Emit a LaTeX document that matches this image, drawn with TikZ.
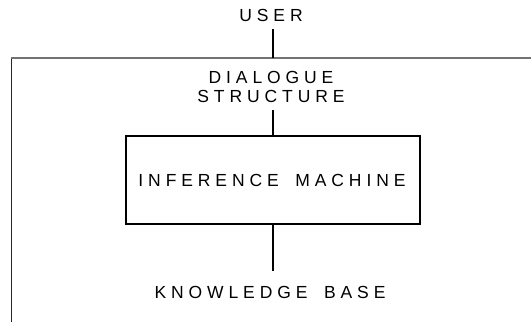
\documentclass[tikz,border=0pt]{standalone}
\usepackage{fontspec}
\setmainfont{Liberation Sans}[LetterSpace=28, WordSpace=1.7]
\begin{document}
\begin{tikzpicture}[x=1pt,y=-1pt,
  lbl/.style={font=\fontsize{17.5}{19}\selectfont, align=center, inner sep=0pt},
  conn/.style={line width=2pt, black},
  frametop/.style={line width=1.3pt, black!55},
  frameleft/.style={line width=1pt, black!85}]
\useasboundingbox (0,0) rectangle (531,322);
\coordinate (fl) at (11,58);
\coordinate (fr) at (531,58);
\coordinate (fb) at (11,322);
\draw[frametop] (fr) -- (fl);
\draw[frameleft] ([yshift=-0.6pt]fl) -- (fb);
\node[lbl, anchor=base] (user) at (271,21) {USER};
\coordinate (ftop) at (273,58);
\node[lbl, anchor=base] (dlg) at (271,102) {DIALOGUE\\STRUCTURE};
\node[draw, line width=2pt, minimum width=294pt, minimum height=88pt, inner sep=0pt] (im) at (273,180) {};
\node[lbl, anchor=base] (imt) at (272,186) {INFERENCE MACHINE};
\node[lbl, anchor=base] (kb) at (270,298) {KNOWLEDGE BASE};
\coordinate (kbtop) at (273,271);
\draw[conn] ([yshift=-8pt]user.south -| ftop) -- (ftop);
\draw[conn] ([yshift=-8pt]dlg.south -| im.north) -- (im.north);
\draw[conn] (im.south) -- (kbtop);
\end{tikzpicture}
\end{document}
